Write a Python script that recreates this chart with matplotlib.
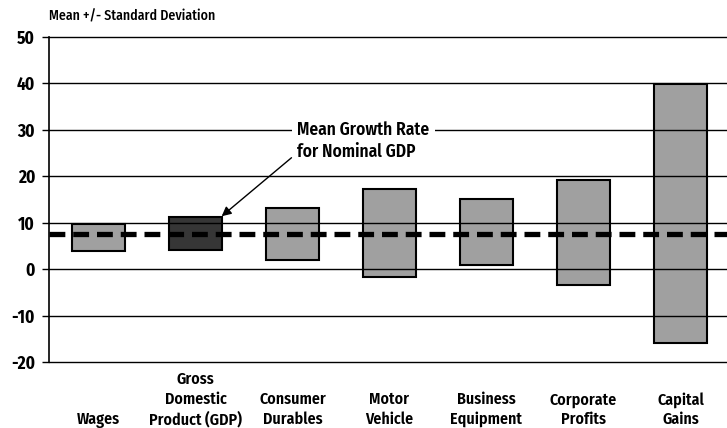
import matplotlib
matplotlib.use("Agg")
import matplotlib.pyplot as plt

# Data: mean +/- one standard deviation
categories = ["Wages", "Gross\nDomestic\nProduct (GDP)", "Consumer\nDurables",
              "Motor\nVehicle", "Business\nEquipment", "Corporate\nProfits",
              "Capital\nGains"]
lows = [3.9, 4.1, 1.9, -1.7, 0.9, -3.4, -15.8]
highs = [9.7, 11.2, 13.2, 17.3, 15.1, 19.2, 39.8]
gdp_mean = 7.6
y_ticks = [-20, -10, 0, 10, 20, 30, 40, 50]

plt.rcParams["font.family"] = ["Fira Sans Condensed", "DejaVu Sans"]

fig = plt.figure(figsize=(7.27, 4.28), dpi=100)
ax = fig.add_axes([0.0674, 0.154, 0.9326, 0.7596])

x = list(range(len(categories)))
colors = ["#a0a0a0"] * len(categories)
colors[1] = "#363636"
heights = [h - l for h, l in zip(highs, lows)]
ax.bar(x, heights, bottom=lows, width=0.54, color=colors,
       edgecolor="black", linewidth=1.5, zorder=2)

# horizontal grid on top of bars, as in the original
for t in y_ticks:
    ax.axhline(t, color="black", linewidth=1.0, zorder=3, clip_on=False)

ax.axhline(gdp_mean, color="black", linewidth=3.8, dashes=(3.0, 1.5), zorder=4)

ax.set_xlim(-0.51, 6.48)
ax.set_ylim(-20, 50)
ax.set_yticks(y_ticks)
ax.set_yticklabels([str(t) for t in y_ticks], fontsize=12.5, fontweight=700)
ax.tick_params(axis="y", length=5, width=1, pad=5)
ax.tick_params(axis="x", length=0, pad=7)

# pad labels so they all line up at the bottom
labels = []
for c in categories:
    n = c.count("\n")
    labels.append("\n" * (2 - n) + c)
ax.set_xticks(x)
ax.set_xticklabels(labels, fontsize=11.5, fontweight=600, linespacing=1.3)

for s in ["top", "right", "bottom"]:
    ax.spines[s].set_visible(False)
ax.spines["left"].set_linewidth(1.2)

ax.text(2.05, 30, "Mean Growth Rate", fontsize=12.5, fontweight=600,
        ha="left", va="center", zorder=5,
        bbox=dict(facecolor="white", edgecolor="none", pad=4))
ax.text(2.05, 25.3, "for Nominal GDP", fontsize=12.5, fontweight=600,
        ha="left", va="center", zorder=5)
ax.annotate("", xy=(1.27, 11.4), xytext=(1.99, 24.0),
            arrowprops=dict(arrowstyle="-|>", color="black", lw=1.0,
                            mutation_scale=14, shrinkA=0, shrinkB=0),
            zorder=5)

fig.text(0.067, 0.963, "Mean +/- Standard Deviation", fontsize=10,
         fontweight=500, ha="left", va="center")

fig.savefig("out.png", dpi=100)
